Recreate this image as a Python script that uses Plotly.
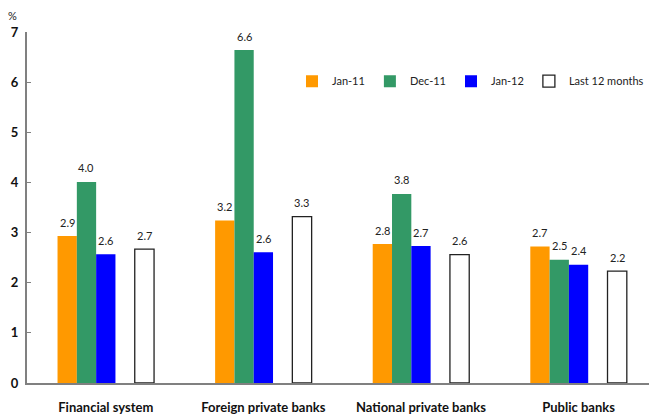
import plotly.graph_objects as go

# Loan interest spread by type of bank (%)
categories = ["Financial system", "Foreign private banks", "National private banks", "Public banks"]
jan_11 = [2.93, 3.24, 2.77, 2.72]
dec_11 = [4.01, 6.64, 3.77, 2.46]
jan_12 = [2.57, 2.61, 2.73, 2.36]
last_12m = [2.67, 3.32, 2.56, 2.23]

series = [
    ("Jan-11", jan_11, "#FF9900", None),
    ("Dec-11", dec_11, "#339966", None),
    ("Jan-12", jan_12, "#0000FF", None),
    ("Last 12 months", last_12m, "#FFFFFF", "#222222"),
]

# bar slots inside each category: three adjacent bars, one empty slot, then the 12-month bar
slot = 0.1225
slot_index = [0, 1, 2, 4]

font_family = "Lato, 'DejaVu Sans', sans-serif"

fig = go.Figure()
annotations = []
x_idx = list(range(len(categories)))

for (name, vals, color, line_color), s in zip(series, slot_index):
    offset = (s - 2.5) * slot
    fig.add_trace(go.Bar(
        name=name,
        x=x_idx,
        y=vals,
        width=slot,
        offset=offset,
        marker=dict(
            color=color,
            line=dict(color=line_color or color, width=1.3 if line_color else 0),
        ),
    ))
    for i, v in zip(x_idx, vals):
        annotations.append(dict(
            x=i + offset + slot / 2, y=v, xref="x", yref="y",
            text=f"{v:.1f}", showarrow=False,
            yanchor="middle", yshift=14,
            font=dict(family=font_family, size=11, color="#222222"),
        ))

# percent sign above the y axis
annotations.append(dict(
    x=0, y=1, xref="paper", yref="paper", text="%", showarrow=False,
    xanchor="right", yanchor="bottom", xshift=-8, yshift=8,
    font=dict(family=font_family, size=11, color="#222222"),
))

fig.update_layout(
    width=649, height=415,
    margin=dict(l=27, r=0, t=32, b=32),
    paper_bgcolor="white", plot_bgcolor="white",
    barmode="overlay",
    showlegend=True,
    legend=dict(
        orientation="h", x=1, xanchor="right", y=0.86, yanchor="middle",
        font=dict(family=font_family, size=11, color="#222222"),
        bgcolor="rgba(0,0,0,0)", itemwidth=30,
    ),
    annotations=annotations,
    xaxis=dict(
        tickmode="array", tickvals=x_idx, ticktext=categories,
        range=[-0.5, 3.447],
        showline=True, linecolor="#808080", linewidth=2,
        ticks="", showgrid=False, zeroline=False,
        tickfont=dict(family=font_family, size=13, color="#111111", weight="bold"),
        ticklabelstandoff=11,
    ),
    yaxis=dict(
        range=[0, 7], dtick=1,
        showline=True, linecolor="#808080", linewidth=2,
        ticks="inside", ticklen=4, tickcolor="#808080", tickwidth=1,
        showgrid=False, zeroline=False,
        ticklabelstandoff=4,
        tickfont=dict(family=font_family, size=13, color="#111111", weight="bold"),
    ),
)

fig.write_html("out.html")
